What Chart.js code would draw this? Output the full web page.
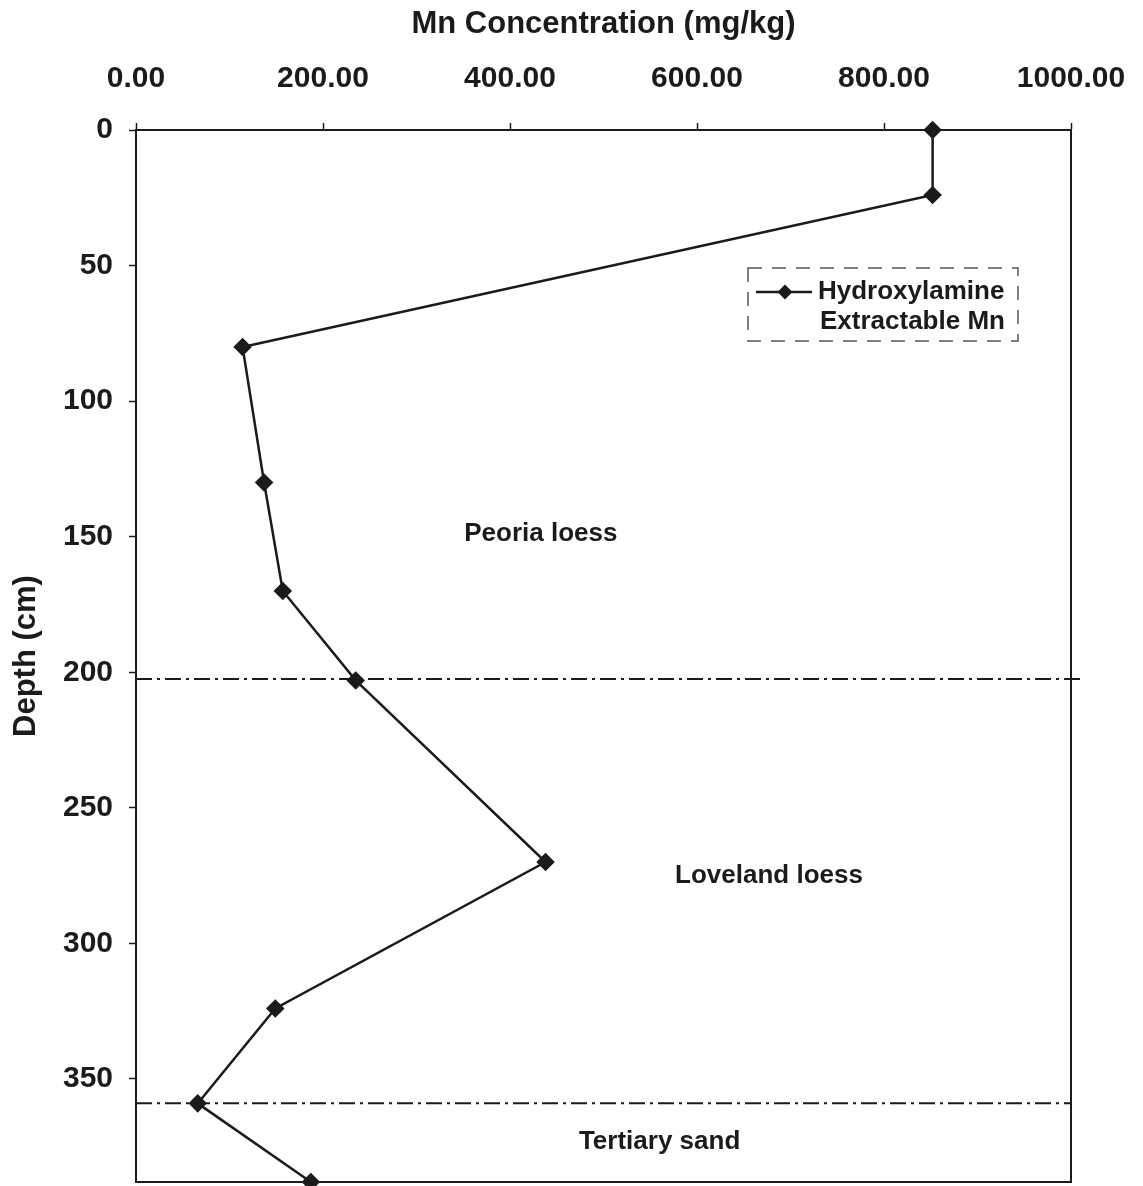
<!DOCTYPE html>
<html>
<head>
<meta charset="utf-8">
<title>Mn Concentration profile</title>
<script src="https://cdn.jsdelivr.net/npm/chart.js"></script>
<style>
  html, body { margin: 0; padding: 0; background: #fff; overflow: hidden; }
  canvas { display: block; }
</style>
</head>
<body>
<canvas id="mnChart" width="1143" height="1186"></canvas>
<script>
// Mn concentration (mg/kg) against depth (cm)
const mnValues  = [852, 852, 114, 137, 157, 235, 438, 149, 66, 187];
const depths    = [0, 24, 80, 130, 170, 203, 270, 324, 359, 388];
const xTicks    = [0, 200, 400, 600, 800, 1000];
const yTicks    = [0, 50, 100, 150, 200, 250, 300, 350];

// layer boundaries (dash-dot lines)
const boundaryDepths = [202.5, 359];
const boundaryEnds   = [1010, 1000];

// layer names, placed at [mn, depth]
const layerNames = ['Peoria loess', 'Loveland loess', 'Tertiary sand'];
const layerX     = [433, 677, 560];
const layerY     = [149, 275, 373];

const legendLines = ['Hydroxylamine', 'Extractable Mn'];

const ink = '#1b1b1b';
const fontFam = '"Liberation Sans", Arial, Helvetica, sans-serif';

var mnPoints = mnValues.map(function(v, i) { return {x: v, y: depths[i]}; });

var datasets = [{
    label: legendLines.join(' '),
    data: mnPoints,
    showLine: true,
    borderColor: ink,
    backgroundColor: ink,
    borderWidth: 2.5,
    pointStyle: 'rectRot',
    pointRadius: 7.5,
    pointHoverRadius: 7.5,
    tension: 0,
    clip: false
}];

boundaryDepths.forEach(function(d, i) {
    datasets.push({
        label: 'boundary ' + (i + 1),
        data: [{x: 0, y: d}, {x: boundaryEnds[i], y: d}],
        showLine: true,
        borderColor: ink,
        borderWidth: 2,
        borderDash: [16, 5, 3, 5],
        pointRadius: 0,
        clip: false
    });
});

// keep the plot box where the original has it (labels may overhang)
function noOverhang(s) {
    s.paddingLeft = 0; s.paddingRight = 0;
    s.paddingTop = 0; s.paddingBottom = 0;
}

// frame, layer names and the boxed legend
const extras = {
    id: 'extras',
    afterDatasetsDraw: function(chart) {
        var ctx = chart.ctx;
        var a = chart.chartArea;
        var xs = chart.scales.x, ys = chart.scales.y;
        ctx.save();

        ctx.strokeStyle = ink;
        ctx.lineWidth = 2;
        ctx.beginPath();
        ctx.moveTo(a.right, a.top);
        ctx.lineTo(a.right, a.bottom);
        ctx.lineTo(a.left, a.bottom);
        ctx.stroke();

        ctx.fillStyle = ink;
        ctx.font = 'bold 26px ' + fontFam;
        ctx.textAlign = 'center';
        ctx.textBaseline = 'middle';
        layerNames.forEach(function(t, i) {
            ctx.fillText(t, xs.getPixelForValue(layerX[i]), ys.getPixelForValue(layerY[i]));
        });

        // legend box
        var bx = 748, by = 268, bw = 270, bh = 73;
        ctx.strokeStyle = '#555';
        ctx.lineWidth = 1.5;
        ctx.setLineDash([14, 10]);
        ctx.strokeRect(bx, by, bw, bh);
        ctx.setLineDash([]);

        ctx.strokeStyle = ink;
        ctx.lineWidth = 2.5;
        ctx.beginPath();
        ctx.moveTo(756, 292);
        ctx.lineTo(812, 292);
        ctx.stroke();
        ctx.beginPath();
        ctx.moveTo(785, 284.5);
        ctx.lineTo(792.5, 292);
        ctx.lineTo(785, 299.5);
        ctx.lineTo(777.5, 292);
        ctx.closePath();
        ctx.fill();

        ctx.textAlign = 'left';
        ctx.fillText(legendLines[0], 818, 292);
        ctx.fillText(legendLines[1], 820, 322);
        ctx.restore();
    }
};

var ctx = document.getElementById('mnChart').getContext('2d');
var mnChart = new Chart(ctx, {
    type: 'scatter',
    data: { datasets: datasets },
    plugins: [extras],
    options: {
        responsive: false,
        animation: false,
        devicePixelRatio: 1,
        events: [],
        layout: { autoPadding: false, padding: { top: 0, left: 0, right: 72, bottom: 4 } },
        plugins: {
            legend: { display: false },
            tooltip: { enabled: false }
        },
        scales: {
            x: {
                type: 'linear',
                position: 'top',
                min: 0,
                max: 1000,
                afterFit: function(s) { s.height = 130; noOverhang(s); },
                afterBuildTicks: function(s) { s.ticks = xTicks.map(function(v) { return {value: v}; }); },
                ticks: {
                    color: ink,
                    padding: 26,
                    maxRotation: 0,
                    font: { family: fontFam, size: 30, weight: 'bold' },
                    callback: function(v) { return Number(v).toFixed(2); }
                },
                grid: { drawOnChartArea: false, drawTicks: true, tickLength: 7, color: ink, tickWidth: 1.5 },
                border: { color: ink, width: 2 },
                title: {
                    display: true,
                    text: 'Mn Concentration (mg/kg)',
                    color: ink,
                    font: { family: fontFam, size: 31, weight: 'bold' },
                    padding: { top: 6, bottom: 0 }
                }
            },
            y: {
                type: 'linear',
                reverse: true,
                min: 0,
                max: 388,
                afterFit: function(s) { s.width = 136; noOverhang(s); },
                afterBuildTicks: function(s) { s.ticks = yTicks.map(function(v) { return {value: v}; }); },
                ticks: {
                    color: ink,
                    padding: 16,
                    font: { family: fontFam, size: 30, weight: 'bold' }
                },
                grid: { drawOnChartArea: false, drawTicks: true, tickLength: 7, color: ink, tickWidth: 1.5 },
                border: { color: ink, width: 2 },
                title: {
                    display: true,
                    text: 'Depth (cm)',
                    color: ink,
                    font: { family: fontFam, size: 31, weight: 'bold' },
                    padding: { top: 8, bottom: 0 }
                }
            }
        }
    }
});
</script>
</body>
</html>
